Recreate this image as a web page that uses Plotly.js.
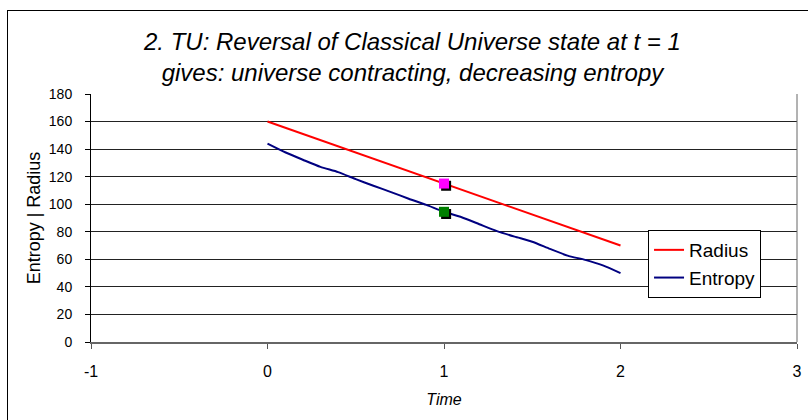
<!DOCTYPE html>
<html>
<head>
<meta charset="utf-8">
<script src="https://cdn.plot.ly/plotly-3.0.1.min.js"></script>
<style>
  html, body { margin: 0; padding: 0; background: #fff; }
  #wrap { position: relative; width: 808px; height: 420px; overflow: hidden; }
  #frame { position: absolute; left: 7px; top: 10px; width: 820px; height: 430px; border: 1.5px solid #000; box-sizing: border-box; }
  #chart { position: absolute; left: 0; top: 0; width: 808px; height: 420px; }
</style>
</head>
<body>
<div id="wrap">
  <div id="frame"></div>
  <div id="chart"></div>
</div>
<script>
// Data
const radiusTime = [0, 1, 2];
const radiusValues = [160, 115, 70];

const entropyTime = [0, 0.1, 0.2, 0.3, 0.4, 0.5, 0.6, 0.7, 0.8, 0.9, 1.0,
                     1.1, 1.2, 1.3, 1.4, 1.5, 1.6, 1.7, 1.8, 1.9, 2.0];
const entropyValues = [144, 137.7, 132.3, 127.1, 123.3, 118.2, 113.4, 108.8, 104, 99.5, 94.5,
                       90.5, 85.5, 80.5, 76.5, 72.8, 67.6, 62.7, 59.6, 55.6, 50];

const reversalTime = [1];
const reversalRadius = [115];
const reversalEntropy = [94.5];

const yTicks = [0, 20, 40, 60, 80, 100, 120, 140, 160, 180];
const xTicks = [-1, 0, 1, 2, 3];

const titleLines = ['2. TU: Reversal of Classical Universe state at t = 1',
                    'gives: universe contracting, decreasing entropy'];

const FONT = 'Liberation Sans, Arial, sans-serif';

// small shadow offset (in axis units) for the marker squares
const shX = 0.012, shY = 1.6;

const traces = [
  { x: radiusTime, y: radiusValues, name: 'Radius', mode: 'lines', legendgroup: 'r',
    line: { color: '#ff0000', width: 2 } },
  { x: entropyTime, y: entropyValues, name: 'Entropy', mode: 'lines', legendgroup: 'e',
    line: { color: '#000080', width: 2, shape: 'spline', smoothing: 0.6 } },
  { x: reversalTime.map(v => v + shX), y: reversalRadius.map(v => v - shY), mode: 'markers',
    showlegend: false, hoverinfo: 'skip',
    marker: { symbol: 'square', size: 10, color: '#000000' } },
  { x: reversalTime, y: reversalRadius, mode: 'markers', showlegend: false,
    marker: { symbol: 'square', size: 10, color: '#ff00ff' } },
  { x: reversalTime.map(v => v + shX), y: reversalEntropy.map(v => v - shY), mode: 'markers',
    showlegend: false, hoverinfo: 'skip',
    marker: { symbol: 'square', size: 10, color: '#000000' } },
  { x: reversalTime, y: reversalEntropy, mode: 'markers', showlegend: false,
    marker: { symbol: 'square', size: 10, color: '#008000' } }
];

const layout = {
  width: 808, height: 420,
  margin: { l: 91, r: 11, t: 94, b: 78, pad: 0 },
  paper_bgcolor: 'rgba(0,0,0,0)',
  plot_bgcolor: '#ffffff',
  font: { family: FONT, color: '#000' },
  annotations: [
    { text: '<i>' + titleLines[0] + '<br>' + titleLines[1] + '</i>', xref: 'paper', yref: 'paper',
      x: 0.4547, y: 1.149, xanchor: 'center', yanchor: 'middle', showarrow: false, align: 'center',
      font: { family: FONT, size: 24, color: '#000' } }
  ],
  xaxis: {
    range: [-1, 3], tickvals: xTicks, ticktext: xTicks.map(String),
    ticks: 'outside', ticklen: 5, tickcolor: '#555', tickwidth: 1,
    showgrid: false, zeroline: false,
    showline: true, linecolor: '#666', linewidth: 2, mirror: false,
    tickfont: { family: FONT, size: 16, color: '#000' },
    ticklabelstandoff: 9,
    title: { text: '<i>Time</i>', font: { family: FONT, size: 16, color: '#000' }, standoff: 15 }
  },
  yaxis: {
    range: [0, 180], tickvals: yTicks, ticktext: yTicks.map(String),
    ticks: 'outside', ticklen: 5, tickcolor: '#000', tickwidth: 1,
    showgrid: true, gridcolor: '#222', gridwidth: 1,
    zeroline: false, showline: true, linecolor: '#000', linewidth: 1,
    tickfont: { family: FONT, size: 14, color: '#000' },
    ticklabelstandoff: 10,
    title: { text: 'Entropy | Radius', font: { family: FONT, size: 18, color: '#000' }, standoff: 3 }
  },
  shapes: [
    { type: 'line', xref: 'paper', yref: 'paper', x0: 1, x1: 1, y0: 0, y1: 1,
      line: { color: '#666', width: 1 } }
  ],
  legend: {
    x: 0.789, y: 0.4516, xanchor: 'left', yanchor: 'top',
    bgcolor: '#ffffff', bordercolor: '#000', borderwidth: 1,
    font: { family: FONT, size: 19, color: '#000' },
    itemwidth: 30, tracegroupgap: 0
  },
  showlegend: true
};

Plotly.newPlot('chart', traces, layout, { displayModeBar: false, staticPlot: true });
</script>
</body>
</html>
